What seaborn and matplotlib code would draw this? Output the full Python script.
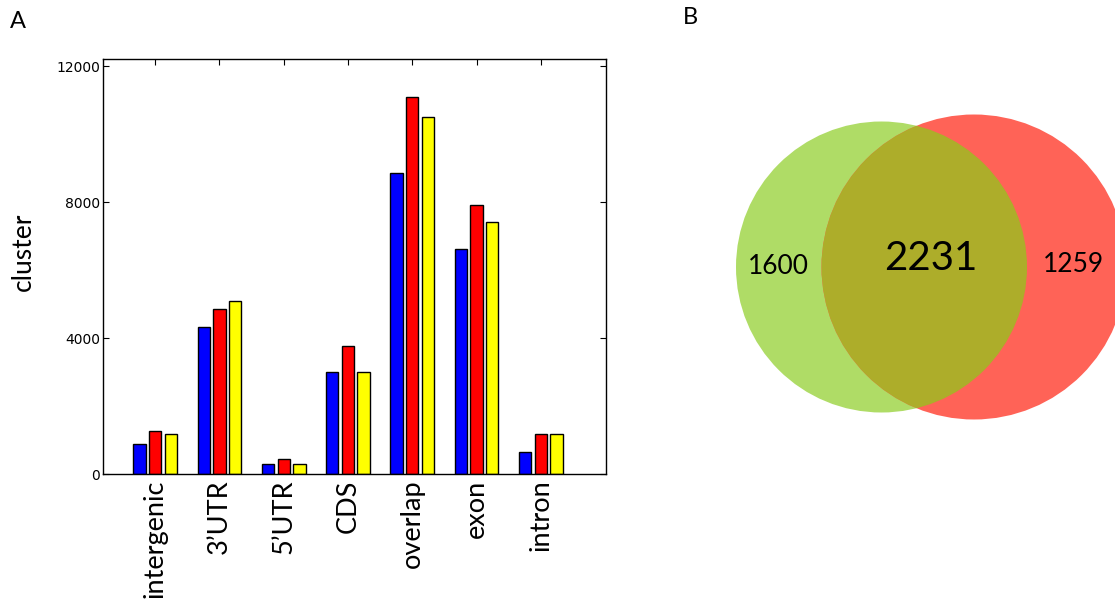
import numpy as np
import pandas as pd
import matplotlib
matplotlib.use("Agg")
import matplotlib.pyplot as plt
import seaborn as sns
from matplotlib.patches import Circle

# ---------------- data ----------------
categories = ["intergenic", "3\u2019UTR", "5\u2019UTR", "CDS", "overlap", "exon", "intron"]
series_names = ["S1", "S2", "S3"]
values_s1 = [870, 4315, 295, 2990, 8845, 6625, 640]
values_s2 = [1265, 4865, 430, 3775, 11080, 7920, 1175]
values_s3 = [1170, 5090, 305, 3010, 10510, 7410, 1170]
bar_colors = ["#0000ff", "#ff0000", "#ffff00"]
y_ticks = [0, 4000, 8000, 12000]
y_label = "cluster"

venn_left_only = "1600"
venn_both = "2231"
venn_right_only = "1259"
venn_colors = {"left": "#afdc66", "right": "#ff6357", "both": "#adad2a"}

# ---------------- figure ----------------
sns.set_theme(style="ticks")
plt.rcParams["font.family"] = ["DejaVu Sans"]

W, H = 1115, 604
fig = plt.figure(figsize=(W / 100, H / 100), dpi=100)
fig.patch.set_facecolor("white")

df = pd.DataFrame({
    "category": np.repeat(categories, 3),
    "series": series_names * len(categories),
    "value": [v for trio in zip(values_s1, values_s2, values_s3) for v in trio],
})

ax = fig.add_axes([102.7 / W, (H - 474) / H, 503 / W, (474 - 59.3) / H])
ax.set_facecolor("white")
sns.barplot(data=df, x="category", y="value", hue="series", order=categories,
            hue_order=series_names, palette=bar_colors, edgecolor="black",
            linewidth=1.0, width=0.733, gap=0.21, legend=False, ax=ax,
            saturation=1.0, errorbar=None)

ax.set_xlim(-0.817, 7.01)
ax.set_ylim(0, 12200)
ax.set_yticks(y_ticks)
ax.set_yticklabels([str(t) for t in y_ticks], fontsize=10, color="black")
ax.set_xticks(range(len(categories)))
ax.set_xticklabels(categories, rotation=90, fontsize=19.5, family=["Lato", "DejaVu Sans"],
                   color="black", va="top")
ax.tick_params(axis="x", which="both", bottom=False, top=True, direction="in",
               length=4, width=0.8, pad=4, color="black")
ax.tick_params(axis="y", which="both", left=True, right=True, direction="in",
               length=4, width=0.8, pad=2, color="black")
ax.set_xlabel("")
ax.set_ylabel(y_label, fontsize=19, family=["Lato", "DejaVu Sans"], color="black")
ax.yaxis.set_label_coords(-0.133, 0.5365)
for s in ax.spines.values():
    s.set_visible(True)
    s.set_color("black")
    s.set_linewidth(1.0)

# ---------------- Venn panel ----------------
ax2 = fig.add_axes([640 / W, 0, (W - 640) / W, 1])
ax2.set_xlim(640, W)
ax2.set_ylim(H, 0)
ax2.axis("off")

left_c = Circle((881.5, 267), 145.5, facecolor=venn_colors["left"], edgecolor="none")
right_c = Circle((974, 267), 152.5, facecolor=venn_colors["right"], edgecolor="none")
ax2.add_patch(left_c)
ax2.add_patch(right_c)
both_c = Circle((881.5, 267), 145.5, facecolor=venn_colors["both"], edgecolor="none")
ax2.add_patch(both_c)
both_c.set_clip_path(right_c)

ax2.text(778, 266, venn_left_only, ha="center", va="center", fontsize=19,
         family=["Lato", "DejaVu Sans"], color="black")
ax2.text(931, 258, venn_both, ha="center", va="center", fontsize=29,
         family=["Lato", "DejaVu Sans"], color="black")
ax2.text(1073, 265, venn_right_only, ha="center", va="center", fontsize=19,
         family=["Lato", "DejaVu Sans"], color="black")

# panel letters
fig.text(10 / W, 1 - 11 / H, "A", ha="left", va="top", fontsize=17,
         family=["Lato", "DejaVu Sans"], color="black")
fig.text(683 / W, 1 - 7 / H, "B", ha="left", va="top", fontsize=17,
         family=["Lato", "DejaVu Sans"], color="black")

fig.savefig("out.png", dpi=100, facecolor="white")
